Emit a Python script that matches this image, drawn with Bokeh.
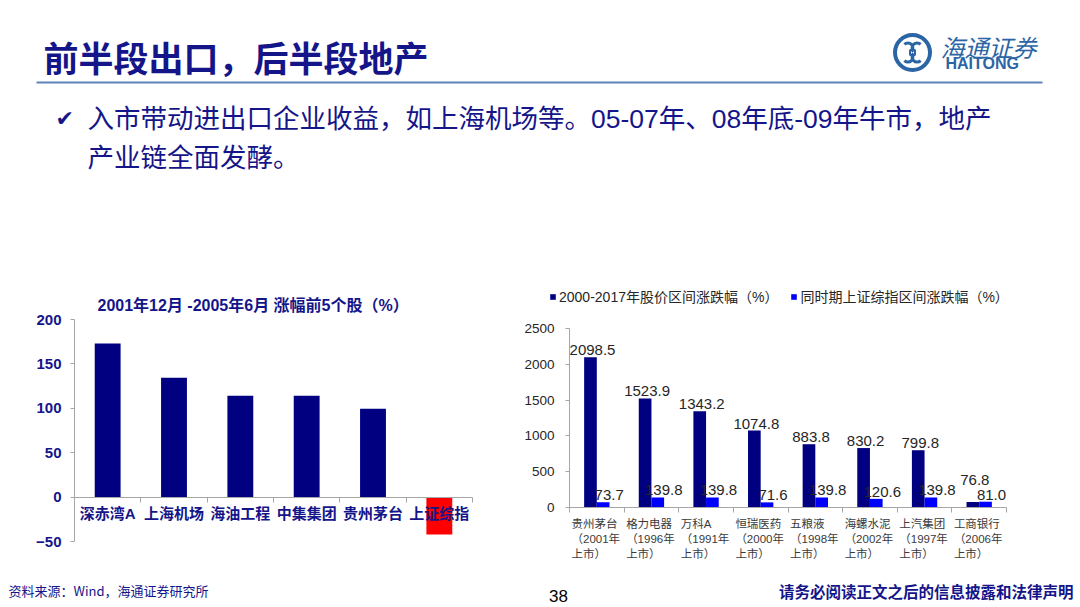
from bokeh.plotting import figure
from bokeh.models import (Range1d, LinearAxis, FixedTicker, Label, ColumnDataSource,
                          Legend, LegendItem)
from bokeh.core.properties import value
from bokeh.embed import file_html
from bokeh.resources import INLINE
import math

# ------------------------------------------------------------------ data
slide_title = "前半段出口，后半段地产"
bullet_lines = ["入市带动进出口企业收益，如上海机场等。05-07年、08年底-09年牛市，地产",
                "产业链全面发酵。"]
source_note = "资料来源：Wind，海通证券研究所"
page_number = "38"
disclaimer = "请务必阅读正文之后的信息披露和法律声明"

left_title = "2001年12月 -2005年6月 涨幅前5个股（%）"
left_categories = ["深赤湾A", "上海机场", "海油工程", "中集集团", "贵州茅台", "上证综指"]
left_values = [173, 134.5, 114, 114, 99.5, -42]
left_yticks = [-50, 0, 50, 100, 150, 200]

right_categories = ["贵州茅台", "格力电器", "万科A", "恒瑞医药", "五粮液", "海螺水泥", "上汽集团", "工商银行"]
right_listing_years = ["2001", "1996", "1991", "2000", "1998", "2002", "1997", "2006"]
stock_gain = [2098.5, 1523.9, 1343.2, 1074.8, 883.8, 830.2, 799.8, 76.8]
index_gain = [73.7, 139.8, 139.8, 71.6, 139.8, 120.6, 139.8, 81.0]
right_yticks = [0, 500, 1000, 1500, 2000, 2500]
series_names = ["2000-2017年股价区间涨跌幅（%）", "同时期上证综指区间涨跌幅（%）"]

# ------------------------------------------------------------------ style / layout
NAVY = "#000080"
BLUE = "#0000FF"
RED = "#FF0000"
TXT_NAVY = "#15158A"
GRAY_AX = "#A6A6A6"
DARK_TXT = "#262626"
LOGO = "#2B65A6"
CJK = "Noto Sans CJK SC"
MIX = "Liberation Sans, Noto Sans CJK SC"

# canvas extent in window pixels
W, H = 1080, 607
CX0, CX1 = 0, W
CY_BOT, CY_TOP = H, 0

# plot boxes (window pixels)
LX0, LX1, LY_TOP, LY_BOT = 74, 472, 319, 541
RX0, RX1, RY_TOP, RY_BOT = 569, 1006, 328, 507


def span_range(v0, p0, v1, p1, c_start, c_end):
    k = (v1 - v0) / (p1 - p0)
    return Range1d(start=v0 + (c_start - p0) * k, end=v0 + (c_end - p0) * k)


p = figure(width=W, height=H, x_range=Range1d(CX0, CX1), y_range=Range1d(CY_BOT, CY_TOP),
           output_backend="svg", toolbar_location=None, x_axis_location=None,
           y_axis_location=None, min_border=0, title=None)
p.min_border_left = p.min_border_right = p.min_border_top = p.min_border_bottom = 0
p.outline_line_color = None
p.background_fill_color = "white"
p.border_fill_color = "white"
p.grid.visible = False

nL = len(left_categories)
nR = len(right_categories)
p.extra_x_ranges["lx"] = span_range(0, LX0, nL, LX1, CX0, CX1)
p.extra_y_ranges["ly"] = span_range(left_yticks[0], LY_BOT, left_yticks[-1], LY_TOP, CY_BOT, CY_TOP)
p.extra_x_ranges["rx"] = span_range(0, RX0, nR, RX1, CX0, CX1)
p.extra_y_ranges["ry"] = span_range(right_yticks[0], RY_BOT, right_yticks[-1], RY_TOP, CY_BOT, CY_TOP)


def label(x, y, text, size, color, bold=False, font=MIX, align="left", baseline="middle", style=None):
    fs = style if style else ("bold" if bold else "normal")
    p.add_layout(Label(x=x, y=y, text=text, text_font=font, text_font_size=f"{size}px",
                       text_font_style=fs, text_color=color, text_align=align,
                       text_baseline=baseline))


# ------------------------------------------------------------------ header
label(43, 56, slide_title, 35, TXT_NAVY, bold=True, font=CJK)
p.segment(x0=[36], y0=[82], x1=[1042], y1=[82], line_color="#5F84B8", line_width=2)
label(55, 118, "✔", 22, TXT_NAVY, font="DejaVu Sans")
label(87, 118, bullet_lines[0], 26.5, TXT_NAVY, font=MIX)
label(87, 157, bullet_lines[1], 26.5, TXT_NAVY, font=MIX)

# logo
LCX, LCY = 912, 52
p.annulus(x=[LCX], y=[LCY], inner_radius=15.5, outer_radius=19.5, fill_color=LOGO, line_color=None)
for k in range(4):
    a = k * math.pi / 2 + math.pi / 4
    p.arc(x=[LCX + 6.5 * math.cos(a)], y=[LCY + 6.5 * math.sin(a)], radius=5,
          start_angle=a + math.pi / 2, end_angle=a + 3 * math.pi / 2,
          line_color=LOGO, line_width=3)
p.rect(x=[LCX], y=[LCY], width=5, height=5, fill_color=None, line_color=LOGO, line_width=2)
label(940, 46, "海通证券", 24, LOGO, font=CJK, style="italic")
label(945, 63, "HAITONG", 16, LOGO, bold=True, font="Liberation Sans")

# ------------------------------------------------------------------ left chart
label(97, 305, left_title, 16, TXT_NAVY, bold=True)
lsrc = ColumnDataSource(dict(
    x=[i + 0.5 for i in range(nL)],
    top=left_values,
    color=[NAVY if v >= 0 else RED for v in left_values],
    name=left_categories,
))
p.vbar(x="x", top="top", bottom=0, width=0.39, fill_color="color", line_color=None,
       source=lsrc, x_range_name="lx", y_range_name="ly")
p.text(x="x", y=0, text="name", source=lsrc, x_range_name="lx", y_range_name="ly",
       text_font=value(MIX), text_font_style="bold", text_font_size="15px",
       text_color=TXT_NAVY, text_align="center", text_baseline="middle", y_offset=16)

lyax = LinearAxis(y_range_name="ly", fixed_location=LX0, bounds=(left_yticks[0], left_yticks[-1]),
                  ticker=FixedTicker(ticks=left_yticks))
lxax = LinearAxis(x_range_name="lx", y_range_name="ly", fixed_location=0, bounds=(0, nL),
                  ticker=FixedTicker(ticks=list(range(nL + 1))))
for ax in (lyax, lxax):
    ax.axis_line_color = GRAY_AX
    ax.major_tick_line_color = GRAY_AX
    ax.major_tick_in = 0
    ax.minor_tick_line_color = None
lyax.major_tick_out = 4
lyax.major_label_text_font = "Liberation Sans"
lyax.major_label_text_font_style = "bold"
lyax.major_label_text_font_size = "15px"
lyax.major_label_text_color = TXT_NAVY
lyax.major_label_standoff = 9
lxax.major_tick_out = 5
lxax.major_label_text_alpha = 0
p.add_layout(lyax, "left")
p.add_layout(lxax, "below")

# ------------------------------------------------------------------ right chart
half = 0.116
rsrc = ColumnDataSource(dict(
    xs=[i + 0.5 - half for i in range(nR)],
    xi=[i + 0.5 + half for i in range(nR)],
    xl=[i for i in range(nR)],
    stock=stock_gain,
    index=index_gain,
    slbl=[f"{v:.1f}" for v in stock_gain],
    ilbl=[f"{v:.1f}" for v in index_gain],
    soff=[-2 - (15 if abs(s - i) < 60 else 0) for s, i in zip(stock_gain, index_gain)],
    cat=[f"{c}\n（{y}年\n上市）" for c, y in zip(right_categories, right_listing_years)],
))
r_stock = p.vbar(x="xs", top="stock", bottom=0, width=2 * half, fill_color=NAVY, line_color=None,
                 source=rsrc, x_range_name="rx", y_range_name="ry")
r_index = p.vbar(x="xi", top="index", bottom=0, width=2 * half, fill_color=BLUE, line_color=None,
                 source=rsrc, x_range_name="rx", y_range_name="ry")
p.text(x="xs", y="stock", text="slbl", source=rsrc, x_range_name="rx", y_range_name="ry",
       text_font=value("Liberation Sans"), text_font_size="15px", text_color=DARK_TXT,
       text_align="center", text_baseline="bottom", x_offset=2, y_offset="soff")
p.text(x="xi", y="index", text="ilbl", source=rsrc, x_range_name="rx", y_range_name="ry",
       text_font=value("Liberation Sans"), text_font_size="15px", text_color=DARK_TXT,
       text_align="center", text_baseline="bottom", x_offset=6, y_offset=-2)
p.text(x="xl", y=0, text="cat", source=rsrc, x_range_name="rx", y_range_name="ry",
       text_font=value(MIX), text_font_size="11.5px", text_color="#3A3A3A",
       text_align="left", text_baseline="top", x_offset=2, y_offset=10, text_line_height=1.25)

ryax = LinearAxis(y_range_name="ry", fixed_location=RX0, bounds=(right_yticks[0], right_yticks[-1]),
                  ticker=FixedTicker(ticks=right_yticks))
rxax = LinearAxis(x_range_name="rx", y_range_name="ry", fixed_location=0, bounds=(0, nR),
                  ticker=FixedTicker(ticks=list(range(nR + 1))))
for ax in (ryax, rxax):
    ax.axis_line_color = GRAY_AX
    ax.major_tick_line_color = GRAY_AX
    ax.major_tick_in = 0
    ax.minor_tick_line_color = None
ryax.major_tick_out = 4
ryax.major_label_text_font = "Liberation Sans"
ryax.major_label_text_font_size = "13.5px"
ryax.major_label_text_color = DARK_TXT
ryax.major_label_standoff = 11
rxax.major_tick_out = 5
rxax.major_label_text_alpha = 0
p.add_layout(ryax, "left")
p.add_layout(rxax, "below")

legend = Legend(items=[LegendItem(label=series_names[0], renderers=[r_stock]),
                       LegendItem(label=series_names[1], renderers=[r_index])],
                orientation="horizontal", location=(549 - CX0, CY_BOT - 306),
                glyph_width=7, glyph_height=7, label_standoff=3, spacing=12,
                padding=0, margin=0, border_line_color=None, background_fill_alpha=0,
                label_text_font=MIX, label_text_font_size="14px", label_text_color=DARK_TXT,
                label_height=14)
p.add_layout(legend)

# ------------------------------------------------------------------ footer
label(8, 590, source_note, 13, TXT_NAVY, font=CJK)
label(558, 595, page_number, 17, "#000000", font="Liberation Sans", align="center")
label(1073, 590, disclaimer, 15.5, TXT_NAVY, bold=True, font=CJK, align="right")

open("out.html", "w").write(file_html(p, INLINE))
